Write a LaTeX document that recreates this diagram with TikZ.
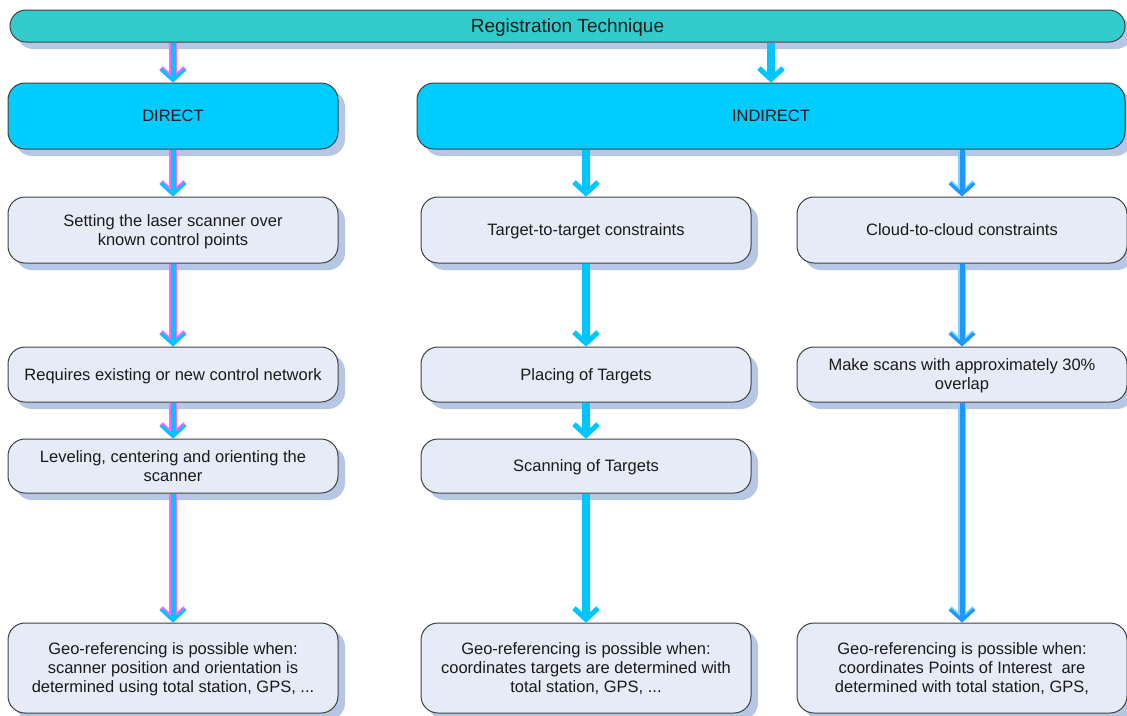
\documentclass[tikz,border=0pt]{standalone}
\usepackage{fontspec}
\setmainfont{Liberation Sans}
\usetikzlibrary{arrows.meta,shadows}

\definecolor{barfill}{HTML}{33CCCC}
\definecolor{headfill}{HTML}{00CCFF}
\definecolor{boxfill}{HTML}{E6ECF7}
\definecolor{shade}{HTML}{B6C7E6}
\definecolor{edge}{HTML}{404040}
\definecolor{txt}{HTML}{1A1A1A}
\definecolor{flowcyan}{HTML}{00C6FF}
\definecolor{flowpink}{HTML}{FF66FF}
\definecolor{flowblue}{HTML}{1E96FF}
\definecolor{flowhalo}{HTML}{80D2FF}

% box from (x1,y1) to (x2,y2), y measured downwards
\newcommand\mkbox[7]{%
  \node[#1, minimum width={(#5-#3)*1pt}, minimum height={(#6-#4)*1pt}]
    (#2) at ({(#3+#5)/2},{(#4+#6)/2}) {#7};}

% arrow drawn as an edge colour under a core colour
\newcommand\flow[4]{%
  \draw[line width=7.5pt, draw=#1, -{Straight Barb[length=11pt,width=24pt,line width=5pt]}] #3 -- #4;
  \draw[line width=5pt, draw=#2, -{Straight Barb[length=11pt,width=24pt,line width=3.2pt]}] #3 -- #4;}

\begin{document}
\begin{tikzpicture}[x=1pt, y=-1pt,
  base/.style={draw=edge, line width=1pt, text=txt, align=center, inner sep=0pt,
    text depth=0pt,
    font=\fontsize{16.5}{19}\selectfont,
    drop shadow={shadow xshift=7pt, shadow yshift=-7pt, fill=shade, opacity=1, draw=none}},
  barbox/.style={base, fill=barfill, rounded corners=16pt, font=\fontsize{19}{22}\selectfont},
  headbox/.style={base, fill=headfill, rounded corners=17pt},
  stepbox/.style={base, fill=boxfill, rounded corners=17pt}]

\clip (0,0) rectangle (1127,715);
\fill[white] (0,0) rectangle (1127,715);

\mkbox{barbox}{top}{10}{10}{1125}{42}{Registration Technique}

\mkbox{headbox}{direct}{8}{83}{338}{149}{DIRECT}
\mkbox{headbox}{indirect}{417}{83}{1125}{149}{INDIRECT}

% direct branch
\mkbox{stepbox}{setting}{8}{197}{338}{263}{Setting the laser scanner over\\known control points}
\mkbox{stepbox}{requires}{8}{347}{338}{402}{Requires existing or new control network}
\mkbox{stepbox}{leveling}{8}{439}{338}{493}{Leveling, centering and orienting the\\scanner}
\mkbox{stepbox}{geoA}{8}{623}{338}{713}{Geo-referencing is possible when:\\scanner position and orientation is\\determined using total station, GPS, ...}

% target-to-target branch
\mkbox{stepbox}{target}{421}{197}{751}{263}{Target-to-target constraints}
\mkbox{stepbox}{placing}{421}{347}{751}{402}{Placing of Targets}
\mkbox{stepbox}{scanning}{421}{439}{751}{493}{Scanning of Targets}
\mkbox{stepbox}{geoB}{421}{623}{751}{713}{Geo-referencing is possible when:\\coordinates targets are determined with\\total station, GPS, ...}

% cloud-to-cloud branch
\mkbox{stepbox}{cloud}{797}{197}{1127}{263}{Cloud-to-cloud constraints}
\mkbox{stepbox}{overlap}{797}{347}{1127}{402}{Make scans with approximately 30\%\\overlap}
\mkbox{stepbox}{geoC}{797}{623}{1127}{713}{Geo-referencing is possible when:\\coordinates Points of Interest~ are\\determined with total station, GPS,}

% connectors
\flow{flowpink}{flowcyan}{(direct.north |- top.south)}{(direct.north)}
\flow{flowcyan}{flowcyan}{(indirect.north |- top.south)}{(indirect.north)}

\flow{flowpink}{flowcyan}{(setting.north |- direct.south)}{(setting.north)}
\flow{flowpink}{flowcyan}{(setting.south)}{(requires.north)}
\flow{flowpink}{flowcyan}{(requires.south)}{(leveling.north)}
\flow{flowpink}{flowcyan}{(leveling.south)}{(geoA.north)}

\flow{flowcyan}{flowcyan}{(target.north |- indirect.south)}{(target.north)}
\flow{flowcyan}{flowcyan}{(target.south)}{(placing.north)}
\flow{flowcyan}{flowcyan}{(placing.south)}{(scanning.north)}
\flow{flowcyan}{flowcyan}{(scanning.south)}{(geoB.north)}

\flow{flowhalo}{flowblue}{(cloud.north |- indirect.south)}{(cloud.north)}
\flow{flowhalo}{flowblue}{(cloud.south)}{(overlap.north)}
\flow{flowhalo}{flowblue}{(overlap.south)}{(geoC.north)}
\end{tikzpicture}
\end{document}
